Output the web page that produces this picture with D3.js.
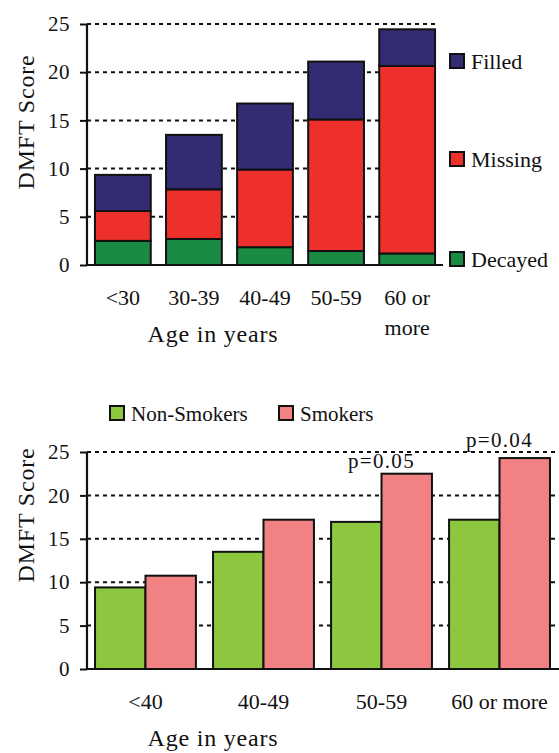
<!DOCTYPE html>
<html>
<head>
<meta charset="utf-8">
<script src="https://cdn.jsdelivr.net/npm/d3@7"></script>
<style>
  body { margin: 0; background: #fff; }
  svg text { font-family: "Liberation Serif", serif !important; }
</style>
</head>
<body>
<svg id="chart" width="559" height="753"></svg>
<script>
// top chart: DMFT components by age
const ageGroupsTop = ["<30", "30-39", "40-49", "50-59", "60 or more"];
const decayed = [2.5, 2.7, 1.85, 1.45, 1.2];
const missing = [3.1, 5.15, 8.05, 13.65, 19.45];
const filled = [3.75, 5.65, 6.85, 6.0, 3.8];
const componentNames = ["Decayed", "Missing", "Filled"];

// bottom chart: smokers vs non-smokers
const ageGroupsBottom = ["<40", "40-49", "50-59", "60 or more"];
const nonSmokers = [9.4, 13.5, 16.95, 17.2];
const smokers = [10.75, 17.2, 22.5, 24.3];
const pValues = ["", "", "p=0.05", "p=0.04"];
const groupNames = ["Non-Smokers", "Smokers"];

const yTicks = [0, 5, 10, 15, 20, 25];
const FONT = "Liberation Serif";

let svg = d3.select("#chart").attr("font-family", FONT);

function label(g, x, y, txt, size, anchor, spacing) {
  return g.append("text")
    .attr("x", x).attr("y", y)
    .attr("font-family", FONT)
    .attr("font-size", size)
    .attr("fill", "#111")
    .attr("text-anchor", anchor || "start")
    .attr("letter-spacing", spacing || 0)
    .text(txt);
}

function drawYAxis(g, yScale, x0, x1, gridEnd) {
  // dotted gridlines
  g.selectAll(".grid").data(yTicks.filter(d => d > 0)).join("line")
    .attr("x1", x0).attr("x2", gridEnd)
    .attr("y1", d => yScale(d)).attr("y2", d => yScale(d))
    .attr("stroke", "#111").attr("stroke-width", 2)
    .attr("stroke-dasharray", "4,4");

  let axis = g.append("g")
    .attr("transform", `translate(${x0},0)`)
    .call(d3.axisLeft(yScale).tickValues(yTicks).tickSize(7).tickPadding(10))
    .attr("font-family", FONT)
    .attr("font-size", 21);
  axis.select(".domain").attr("stroke", "#111").attr("stroke-width", 2.2)
    .attr("d", `M0,${yScale(25)}V${yScale(0)}`);
  axis.selectAll(".tick line").attr("stroke", "#111").attr("stroke-width", 2);
  axis.selectAll(".tick text")
    .attr("font-family", FONT)
    .attr("font-size", 21)
    .attr("letter-spacing", 0.5)
    .attr("fill", "#111");

  // baseline
  g.append("line")
    .attr("x1", x0).attr("x2", x1)
    .attr("y1", yScale(0)).attr("y2", yScale(0))
    .attr("stroke", "#111").attr("stroke-width", 2.2);
}

function yTitle(g, cy) {
  label(g, 0, 0, "DMFT Score", 24, "middle", 0.8)
    .attr("transform", `translate(34,${cy}) rotate(-90)`);
}

// ---------- top chart ----------
let topG = svg.append("g");
let xTop = d3.scaleBand()
  .domain(ageGroupsTop)
  .range([87, 443])
  .paddingInner(0.215)
  .paddingOuter(0.112);
let yTop = d3.scaleLinear().domain([0, 25]).range([265, 24]);

drawYAxis(topG, yTop, 87, 443, 437);

let topRows = ageGroupsTop.map((a, i) => ({age: a, Decayed: decayed[i], Missing: missing[i], Filled: filled[i]}));
let stack = d3.stack().keys(componentNames)(topRows);
let topColor = d3.scaleOrdinal().domain(componentNames).range(["#1b8a43", "#ee302c", "#332c72"]);

topG.selectAll(".layer").data(stack).join("g")
  .attr("fill", d => topColor(d.key))
  .selectAll("rect").data(d => d).join("rect")
  .attr("x", d => xTop(d.data.age))
  .attr("width", xTop.bandwidth())
  .attr("y", d => yTop(d[1]))
  .attr("height", d => yTop(d[0]) - yTop(d[1]))
  .attr("stroke", "#111").attr("stroke-width", 2);

// x labels (last one on two lines)
ageGroupsTop.forEach(a => {
  let lines = a === "60 or more" ? ["60 or", "more"] : [a];
  lines.forEach((l, j) => {
    label(topG, xTop(a) + xTop.bandwidth() / 2, 305 + j * 30, l, 22, "middle");
  });
});
label(topG, 213, 342, "Age in years", 24, "middle", 0.8);
yTitle(topG, 122);

// legend on the right, Filled at top
let legTop = [["Filled", 61], ["Missing", 159], ["Decayed", 259]];
legTop.forEach(([k, cy]) => {
  topG.append("rect").attr("x", 450).attr("y", cy - 7).attr("width", 14).attr("height", 14)
    .attr("fill", topColor(k)).attr("stroke", "#111").attr("stroke-width", 2);
  label(topG, 471, cy + 7.5, k, 22);
});

// ---------- bottom chart ----------
let botG = svg.append("g");
let xBot = d3.scaleBand()
  .domain(ageGroupsBottom)
  .range([87, 558])
  .paddingInner(0.145)
  .paddingOuter(0.068);
let xSub = d3.scaleBand().domain(groupNames).range([0, xBot.bandwidth()]);
let yBot = d3.scaleLinear().domain([0, 25]).range([669, 452]);
let botColor = d3.scaleOrdinal().domain(groupNames).range(["#8dc63f", "#f18183"]);

drawYAxis(botG, yBot, 87, 559, 557);

let botRows = ageGroupsBottom.map((a, i) => ({age: a, vals: [
  {key: "Non-Smokers", v: nonSmokers[i]},
  {key: "Smokers", v: smokers[i]}
], p: pValues[i]}));

let groups = botG.selectAll(".grp").data(botRows).join("g")
  .attr("transform", d => `translate(${xBot(d.age)},0)`);
groups.selectAll("rect").data(d => d.vals).join("rect")
  .attr("x", d => xSub(d.key))
  .attr("width", xSub.bandwidth())
  .attr("y", d => yBot(d.v))
  .attr("height", d => yBot(0) - yBot(d.v))
  .attr("fill", d => botColor(d.key))
  .attr("stroke", "#111").attr("stroke-width", 2);

// p-values sit just above the taller bar; if that bar nearly reaches the top gridline, go above the gridline
groups.filter(d => d.p).each(function(d) {
  let barTop = yBot(d3.max(d.vals, v => v.v));
  let py = (barTop - yBot(25) < 20) ? yBot(25) - 5 : barTop - 6;
  label(d3.select(this), xBot.bandwidth() / 2, py, d.p, 21, "middle", 1.3);
});

ageGroupsBottom.forEach(a => {
  label(botG, xBot(a) + xBot.bandwidth() / 2, 709, a, 22, "middle");
});
label(botG, 213, 746, "Age in years", 24, "middle", 0.8);
yTitle(botG, 515);

// legend above
let legBot = [["Non-Smokers", 110], ["Smokers", 279]];
legBot.forEach(([k, x]) => {
  botG.append("rect").attr("x", x).attr("y", 406).attr("width", 14).attr("height", 14)
    .attr("fill", botColor(k)).attr("stroke", "#111").attr("stroke-width", 2);
  label(botG, x + 21, 420.5, k, 21);
});
</script>
</body>
</html>
